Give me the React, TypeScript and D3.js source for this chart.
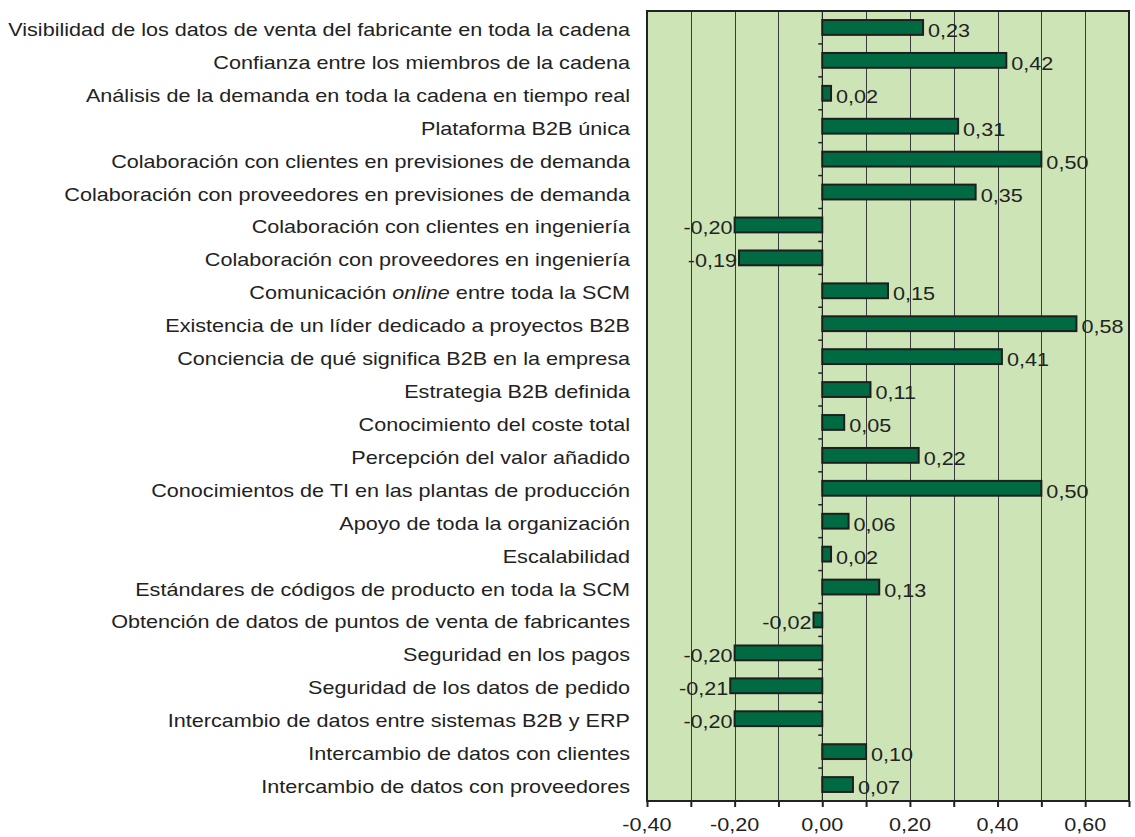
import { useEffect, useRef } from 'react';
import * as d3 from 'd3';

const categories = [
  'Visibilidad de los datos de venta del fabricante en toda la cadena',
  'Confianza entre los miembros de la cadena',
  'Análisis de la demanda en toda la cadena en tiempo real',
  'Plataforma B2B única',
  'Colaboración con clientes en previsiones de demanda',
  'Colaboración con proveedores en previsiones de demanda',
  'Colaboración con clientes en ingeniería',
  'Colaboración con proveedores en ingeniería',
  'Comunicación online entre toda la SCM',
  'Existencia de un líder dedicado a proyectos B2B',
  'Conciencia de qué significa B2B en la empresa',
  'Estrategia B2B definida',
  'Conocimiento del coste total',
  'Percepción del valor añadido',
  'Conocimientos de TI en las plantas de producción',
  'Apoyo de toda la organización',
  'Escalabilidad',
  'Estándares de códigos de producto en toda la SCM',
  'Obtención de datos de puntos de venta de fabricantes',
  'Seguridad en los pagos',
  'Seguridad de los datos de pedido',
  'Intercambio de datos entre sistemas B2B y ERP',
  'Intercambio de datos con clientes',
  'Intercambio de datos con proveedores',
];

const values = [
  0.23, 0.42, 0.02, 0.31, 0.5, 0.35, -0.2, -0.19, 0.15, 0.58, 0.41, 0.11,
  0.05, 0.22, 0.5, 0.06, 0.02, 0.13, -0.02, -0.2, -0.21, -0.2, 0.1, 0.07,
];

const gridTicks = [-0.4, -0.3, -0.2, -0.1, 0, 0.1, 0.2, 0.3, 0.4, 0.5, 0.6, 0.7];
const labelTicks = [-0.4, -0.2, 0, 0.2, 0.4, 0.6];

const fmt = (v: number) => v.toFixed(2).replace('.', ',');

export default function App() {
  const svgRef = useRef<SVGSVGElement>(null);

  useEffect(() => {
    if (!svgRef.current) return;
    const svg = d3.select(svgRef.current);
    svg.selectAll('*').remove();

    const width = 1135;
    const height = 837;
    const margin = { top: 11, right: 6, bottom: 36, left: 647 };
    const font = '"Liberation Sans", Arial, sans-serif';
    const textColor = '#222';
    const fontSize = '17.5px';
    // el texto del original está algo estirado en horizontal
    const stretch = 1.235;
    const place = (px: number, py: number) => `translate(${px},${py}) scale(${stretch},1)`;

    const x = d3
      .scaleLinear()
      .domain([-0.4, 0.7])
      .range([margin.left, width - margin.right]);

    const y = d3
      .scaleBand<string>()
      .domain(categories)
      .range([margin.top, height - margin.bottom])
      .paddingInner(0.55)
      .paddingOuter(0.275);

    const x0 = margin.left;
    const x1 = width - margin.right;
    const y0 = margin.top;
    const y1 = height - margin.bottom;

    // fondo
    svg
      .append('rect')
      .attr('x', x0)
      .attr('y', y0)
      .attr('width', x1 - x0)
      .attr('height', y1 - y0)
      .attr('fill', '#cde4b6');

    // rejilla vertical
    svg
      .append('g')
      .selectAll('line')
      .data(gridTicks)
      .enter()
      .append('line')
      .attr('x1', (d) => Math.round(x(d)) + 0.5)
      .attr('x2', (d) => Math.round(x(d)) + 0.5)
      .attr('y1', y0)
      .attr('y2', y1)
      .attr('stroke', '#3a3a3a')
      .attr('stroke-width', 1);

    // eje inferior
    const axis = svg
      .append('g')
      .attr('transform', `translate(0,${y1})`)
      .call(
        d3
          .axisBottom(x)
          .tickValues(gridTicks)
          .tickSize(6)
          .tickFormat(() => '')
      );
    axis.select('.domain').remove();
    axis.selectAll('.tick line').attr('stroke', '#222').attr('stroke-width', 2);

    svg
      .append('g')
      .selectAll('text')
      .data(labelTicks)
      .enter()
      .append('text')
      .attr('transform', (d) => place(x(d), y1 + 30))
      .attr('text-anchor', 'middle')
      .style('font-family', font)
      .style('font-size', fontSize)
      .style('fill', textColor)
      .text((d) => fmt(d));

    // marco
    svg
      .append('rect')
      .attr('x', x0)
      .attr('y', y0)
      .attr('width', x1 - x0)
      .attr('height', y1 - y0)
      .attr('fill', 'none')
      .attr('stroke', '#222')
      .attr('stroke-width', 2);

    // eje cero con marcas
    const zx = x(0);
    svg
      .append('line')
      .attr('x1', zx)
      .attr('x2', zx)
      .attr('y1', y0)
      .attr('y2', y1)
      .attr('stroke', '#222')
      .attr('stroke-width', 1);

    const step = y.step();
    svg
      .append('g')
      .selectAll('line')
      .data(categories.slice(1))
      .enter()
      .append('line')
      .attr('x1', zx - 4)
      .attr('x2', zx)
      .attr('y1', (d) => (y(d) as number) - (step - y.bandwidth()) / 2)
      .attr('y2', (d) => (y(d) as number) - (step - y.bandwidth()) / 2)
      .attr('stroke', '#222')
      .attr('stroke-width', 1.5);

    // barras
    svg
      .append('g')
      .selectAll('rect')
      .data(values)
      .enter()
      .append('rect')
      .attr('x', (d) => x(Math.min(0, d)))
      .attr('y', (_, i) => y(categories[i]) as number)
      .attr('width', (d) => Math.abs(x(d) - x(0)))
      .attr('height', y.bandwidth())
      .attr('fill', '#006a42')
      .attr('stroke', '#1e1e1e')
      .attr('stroke-width', 2);

    // etiquetas de valor
    svg
      .append('g')
      .selectAll('text')
      .data(values)
      .enter()
      .append('text')
      .attr('transform', (d, i) =>
        place(
          d >= 0 ? x(d) + 5 : x(d) - 2,
          (y(categories[i]) as number) + y.bandwidth() / 2 + 9.5
        )
      )
      .attr('text-anchor', (d) => (d >= 0 ? 'start' : 'end'))
      .style('font-family', font)
      .style('font-size', fontSize)
      .style('fill', textColor)
      .text((d) => fmt(d));

    // etiquetas de categoría
    const catText = svg
      .append('g')
      .selectAll('text')
      .data(categories)
      .enter()
      .append('text')
      .attr('transform', (d) => place(630, (y(d) as number) + y.bandwidth() / 2 + 8.5))
      .attr('text-anchor', 'end')
      .style('font-family', font)
      .style('font-size', fontSize)
      .style('fill', textColor);

    catText.each(function (d) {
      const t = d3.select(this);
      if (d.includes(' online ')) {
        const [a, b] = d.split(' online ');
        t.append('tspan').text(a + ' ');
        t.append('tspan').style('font-style', 'italic').text('online');
        t.append('tspan').text(' ' + b);
      } else {
        t.text(d);
      }
    });
  }, []);

  return (
    <svg
      ref={svgRef}
      width={1135}
      height={837}
      style={{ position: 'absolute', left: 0, top: 0, background: '#fff' }}
    ></svg>
  );
}
